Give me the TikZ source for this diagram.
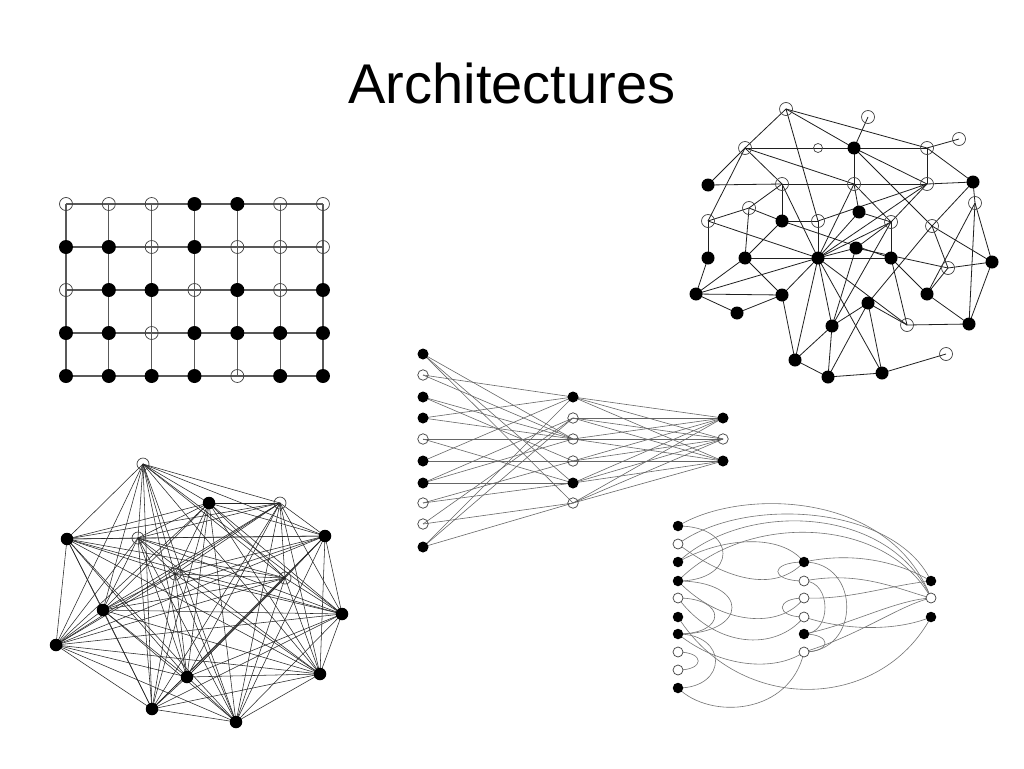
\documentclass[tikz,border=0pt]{standalone}
\usepackage{fontspec}
\setmainfont{Liberation Sans}
\pgfdeclarelayer{bg}
\pgfsetlayers{bg,main}
\tikzset{
  dotF/.style={circle,fill=black,draw=none,inner sep=0pt,outer sep=0pt},
  dotO/.style={circle,draw=black!75,line width=0.7pt,inner sep=0pt,outer sep=0pt},
  gs1/.style={dotF,minimum size=14pt},
  gs0/.style={dotO,minimum size=13pt},
  tsF/.style={dotF,minimum size=13pt},
  tsO/.style={dotO,minimum size=13pt},
  tsS/.style={dotO,minimum size=9pt},
  ls1/.style={dotF,minimum size=12.5pt},
  ls0/.style={dotO,minimum size=12pt},
  ffs1/.style={dotF,minimum size=11pt},
  ffs0/.style={dotO,minimum size=10.5pt},
  rrs1/.style={dotF,minimum size=10.5pt},
  rrs0/.style={dotO,fill=white,minimum size=10pt},
  gridline/.style={draw=black!65,line width=1.3pt},
  tline/.style={draw=black!88,line width=0.8pt},
  bline/.style={draw=black!85,line width=0.55pt},
  fline/.style={draw=black!60,line width=0.6pt},
  rline/.style={draw=black!55,line width=0.6pt},
}
\begin{document}
\begin{tikzpicture}[x=1pt,y=-1pt]
\useasboundingbox (0,0) rectangle (1024,768);
\begin{pgfonlayer}{bg}
\fill[white] (0,0) rectangle (1024,768);
\end{pgfonlayer}

% title
\node[font=\fontsize{56}{60}\selectfont,anchor=base,inner sep=0pt] (title) at (512,103) {Architectures};

% ---------- grid ----------
\foreach \rowvals [count=\gi from 0] in {{0,0,0,1,1,0,0},{1,1,0,1,0,0,0},{0,1,1,0,1,0,1},{1,1,0,1,1,1,1},{1,1,1,1,0,1,1}}{
  \foreach \vv [count=\gj from 0] in \rowvals {
    \node[gs\vv] (g-\gi-\gj) at ({66+42.83*\gj},{204+43*\gi}) {};
  }
}
\begin{pgfonlayer}{bg}
\foreach \gi in {0,...,4} \draw[gridline] (g-\gi-0.center) -- (g-\gi-6.center);
\foreach \gj in {0,...,6} \draw[gridline] (g-0-\gj.center) -- (g-4-\gj.center);
\end{pgfonlayer}

% ---------- top-right random graph ----------
\foreach \nn/\xx/\yy/\kk in {1/786/109/O,2/868/117/O,3/745/148/O,4/818/148/S,5/854/148/F,6/927/148/O,7/959/139/O,
  8/708/185/F,9/782/184/O,10/854/184/O,11/927/184/O,12/973/182/F,13/749/208/O,14/859/212/F,15/975/203/O,
  16/708/221/O,17/782/221/F,18/818/221/O,19/891/222/O,20/932/226/O,21/708/258/F,22/745/258/F,23/818/258/F,
  24/856/248/F,25/891/258/F,26/948/268/O,27/992/262/F,28/696/294/F,29/782/295/F,30/737/313/F,31/927/294/F,
  32/868/303/F,33/907/325/O,34/969/324/F,35/832/326/F,36/795/360/F,37/828/377/F,38/882/373/F,39/946/354/O}{
  \node[ts\kk] (t\nn) at (\xx,\yy) {};
}
\begin{pgfonlayer}{bg}
\foreach \aa/\bb in {1/3,1/5,1/6,1/18,2/5,3/5,3/8,3/16,3/10,3/9,5/6,5/10,5/11,5/20,6/7,6/11,6/12,
  8/9,9/10,10/11,11/12,9/13,9/17,9/23,13/16,13/22,13/17,16/21,16/23,17/18,18/23,17/22,17/25,22/23,23/25,
  24/26,26/27,10/14,10/19,10/23,11/19,11/18,11/23,14/23,14/19,19/25,19/23,19/35,24/23,24/35,24/19,
  21/28,22/28,22/29,28/29,28/30,30/29,28/23,29/23,29/36,36/35,36/37,36/23,35/23,35/37,35/32,32/37,32/38,
  32/33,32/20,37/38,38/39,38/23,33/34,33/25,33/23,31/34,31/26,31/15,25/31,34/27,15/34,27/15,27/20,20/26,
  12/20,12/15}{
  \draw[tline] (t\aa.center) -- (t\bb.center);
}
\end{pgfonlayer}

% ---------- bottom-left complete graph ----------
\foreach \nn/\xx/\yy/\kk in {1/143/464/0,2/209/503/1,3/280/503/0,4/67/539/1,5/138/538/0,6/325/536/1,
  7/175/574/0,8/285/578/0,9/103/610/1,10/342/614/1,11/56/645/1,12/187/677/1,13/320/674/1,14/152/709/1,15/236/722/1}{
  \node[ls\kk] (b\nn) at (\xx,\yy) {};
}
\begin{pgfonlayer}{bg}
\foreach \ii in {1,...,14}{
  \pgfmathtruncatemacro\jstart{\ii+1}
  \foreach \jj in {\jstart,...,15}{ \draw[bline] (b\ii.center) -- (b\jj.center); }
}
\end{pgfonlayer}

% ---------- feed-forward network ----------
\foreach \nn/\yy/\kk in {1/354/1,2/375/0,3/397/1,4/418/1,5/439/0,6/461/1,7/483/1,8/503/0,9/524/0,10/547/1}{
  \node[ffs\kk] (fi\nn) at (423,\yy) {};
}
\foreach \nn/\yy/\kk in {1/397/1,2/418/0,3/439/0,4/461/0,5/483/1,6/503/0}{
  \node[ffs\kk] (fh\nn) at (573,\yy) {};
}
\foreach \nn/\yy/\kk in {1/418/1,2/439/0,3/461/1}{
  \node[ffs\kk] (fo\nn) at (723,\yy) {};
}
\begin{pgfonlayer}{bg}
\foreach \aa/\bb in {1/3,1/5,1/6,2/1,2/3,3/3,3/4,4/1,4/3,5/3,5/5,6/1,6/4,7/2,7/3,7/5,8/4,8/5,9/6,9/2,10/1,10/2,10/6}{
  \draw[fline] (fi\aa.center) -- (fh\bb.center);
}
\foreach \aa in {1,...,6}{ \foreach \bb in {1,2,3}{ \draw[fline] (fh\aa.center) -- (fo\bb.center); } }
\end{pgfonlayer}

% ---------- recurrent network with curved links ----------
\foreach \nn/\yy/\kk in {1/526/1,2/544/0,3/562/1,4/581/1,5/598/0,6/617/1,7/634/1,8/652/0,9/670/0,10/688/1}{
  \node[rrs\kk] (rL\nn) at (678,\yy) {};
}
\foreach \nn/\yy/\kk in {1/562/1,2/581/0,3/598/0,4/617/0,5/634/1,6/652/0}{
  \node[rrs\kk] (rM\nn) at (804,\yy) {};
}
\foreach \nn/\yy/\kk in {1/581/1,2/598/0,3/617/1}{
  \node[rrs\kk] (rR\nn) at (931,\yy) {};
}
\begin{pgfonlayer}{bg}
\draw[rline] (rL1.center) .. controls (740,488) and (890,490) .. (rR2.center);
\draw[rline] (rL2.center) .. controls (745,495) and (895,505) .. (rR1.center);
\draw[rline] (rL3.center) .. controls (745,500) and (890,505) .. (rR2.center);
\draw[rline] (rL4.center) .. controls (745,512) and (885,515) .. (rR2.center);
\draw[rline] (rL1.center) .. controls (738,526) and (738,581) .. (rL4.center);
\draw[rline] (rL2.center) .. controls (715,572) and (770,598) .. (rM1.center);
\draw[rline] (rL3.center) .. controls (720,538) and (780,532) .. (rM1.center);
\draw[rline] (rL4.center) .. controls (750,581) and (750,634) .. (rL7.center);
\draw[rline] (rL5.center) .. controls (727,598) and (727,634) .. (rL7.center);
\draw[rline] (rL4.center) .. controls (720,625) and (780,630) .. (rM3.center);
\draw[rline] (rL5.center) .. controls (715,648) and (775,652) .. (rM4.center);
\draw[rline] (rL7.center) .. controls (720,668) and (775,672) .. (rM6.center);
\draw[rline] (rL6.center) .. controls (740,715) and (880,712) .. (rR3.center);
\draw[rline] (rL10.center) .. controls (710,720) and (790,715) .. (rM6.center);
\draw[rline] (rL8.center) .. controls (705,652) and (705,670) .. (rL9.center);
\draw[rline] (rL7.center) .. controls (728,634) and (728,688) .. (rL10.center);
\draw[rline] (rM1.center) .. controls (769,562) and (769,581) .. (rM2.center);
\draw[rline] (rM3.center) .. controls (775,598) and (775,617) .. (rM4.center);
\draw[rline] (rM2.center) .. controls (832,581) and (832,634) .. (rM5.center);
\draw[rline] (rM1.center) .. controls (861,562) and (861,652) .. (rM6.center);
\draw[rline] (rM5.center) .. controls (832,634) and (832,652) .. (rM6.center);
\draw[rline] (rM1.center) .. controls (850,552) and (895,560) .. (rR1.center);
\draw[rline] (rM2.center) .. controls (860,570) and (900,590) .. (rR2.center);
\draw[rline] (rM3.center) .. controls (850,600) and (890,585) .. (rR1.center);
\draw[rline] (rM4.center) .. controls (850,632) and (900,630) .. (rR3.center);
\draw[rline] (rM6.center) .. controls (860,635) and (900,605) .. (rR2.center);
\draw[rline] (rM5.center) .. controls (850,625) and (895,600) .. (rR2.center);
\end{pgfonlayer}
\end{tikzpicture}
\end{document}
